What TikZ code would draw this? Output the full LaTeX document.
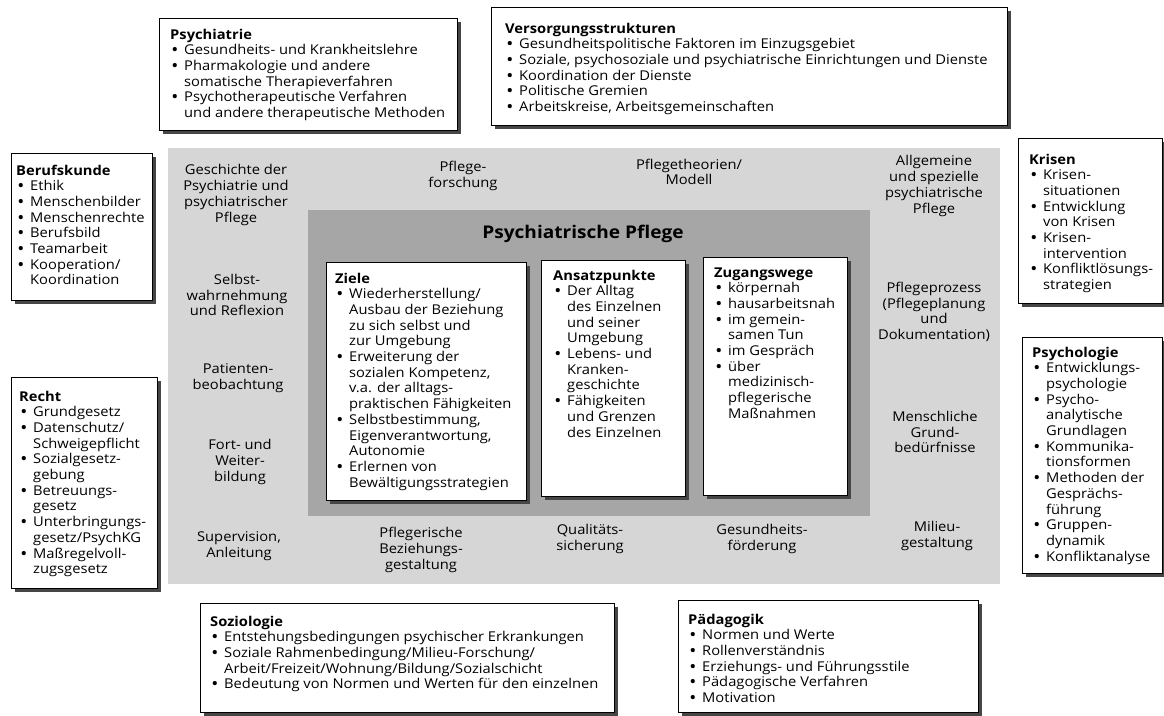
\documentclass[tikz,border=0pt]{standalone}
\usepackage{fontspec}
\setmainfont[FakeStretch=1.09]{Open Sans}
\usetikzlibrary{shadows}
\definecolor{lightgr}{RGB}{214,214,214}
\definecolor{darkgr}{RGB}{166,166,166}
\definecolor{shad}{RGB}{70,70,70}
\newcommand\itm[1]{\par\hangindent=14pt\hangafter=1\noindent\makebox[14pt][l]{\hspace{2pt}\textbf{\textbullet}}#1}
\newcommand\hd[1]{\noindent\textbf{#1}}
\newcommand\boxtext[2]{\parbox[t]{#1}{\raggedright\let\\\newline\setlength\parskip{0pt}#2}}
\tikzset{
  shbox/.style={draw=black, line width=0.9pt, fill=white, anchor=north west, inner sep=0pt,
    drop shadow={shadow xshift=4pt, shadow yshift=-4pt, fill=shad, opacity=1}},
  txt/.style={anchor=base west, inner sep=0pt, font=\fontsize{13.5}{15.7}\selectfont},
  lbl/.style={align=center, inner sep=0pt, font=\fontsize{13.5}{15.7}\selectfont},
  ttl/.style={inner sep=0pt, font=\fontsize{17.5}{20}\selectfont\bfseries},
}
\begin{document}
\begin{tikzpicture}[x=1pt,y=-1pt]
\useasboundingbox (0,0) rectangle (1164,715);
% background areas
\fill[lightgr] (168,148) rectangle (1000,584);
\fill[darkgr] (308,210) rectangle (870,516);
\node[ttl] (title) at (583,234) {Psychiatrische Pflege};

% outer boxes
\node[shbox, minimum width=298pt, minimum height=112pt] (psy) at (159,18) {};
\node[txt] (psyt) at (170,39) {\boxtext{290pt}{\hd{Psychiatrie}
\itm{Gesundheits- und Krankheitslehre}
\itm{Pharmakologie und andere\\somatische Therapieverfahren}
\itm{Psychotherapeutische Verfahren\\und andere therapeutische Methoden}}};

\node[shbox, minimum width=516pt, minimum height=118pt] (vers) at (491,7) {};
\node[txt] (verst) at (505,33) {\boxtext{510pt}{\hd{Versorgungsstrukturen}
\itm{Gesundheitspolitische Faktoren im Einzugsgebiet}
\itm{Soziale, psychosoziale und psychiatrische Einrichtungen und Dienste}
\itm{Koordination der Dienste}
\itm{Politische Gremien}
\itm{Arbeitskreise, Arbeitsgemeinschaften}}};

\node[shbox, minimum width=141pt, minimum height=147pt] (beruf) at (11,153) {};
\node[txt] (beruft) at (16,175) {\boxtext{140pt}{\hd{Berufskunde}
\itm{Ethik}
\itm{Menschenbilder}
\itm{Menschenrechte}
\itm{Berufsbild}
\itm{Teamarbeit}
\itm{Kooperation/\\Koordination}}};

\node[shbox, minimum width=146pt, minimum height=211pt] (recht) at (11,377) {};
\node[txt] (rechtt) at (19,401) {\boxtext{140pt}{\hd{Recht}
\itm{Grundgesetz}
\itm{Datenschutz/\\Schweigepflicht}
\itm{Sozialgesetz-\\gebung}
\itm{Betreuungs-\\gesetz}
\itm{Unterbringungs-\\gesetz/PsychKG}
\itm{Maßregelvoll-\\zugsgesetz}}};

\node[shbox, minimum width=144pt, minimum height=165pt] (kris) at (1018,138) {};
\node[txt] (krist) at (1029,164) {\boxtext{140pt}{\hd{Krisen}
\itm{Krisen-\\situationen}
\itm{Entwicklung\\von Krisen}
\itm{Krisen-\\intervention}
\itm{Konfliktlösungs-\\strategien}}};

\node[shbox, minimum width=140pt, minimum height=236pt] (psych) at (1022,337) {};
\node[txt] (psycht) at (1032,357) {\boxtext{140pt}{\hd{Psychologie}
\itm{Entwicklungs-\\psychologie}
\itm{Psycho-\\analytische\\Grundlagen}
\itm{Kommunika-\\tionsformen}
\itm{Methoden der\\Gesprächs-\\führung}
\itm{Gruppen-\\dynamik}
\itm{Konfliktanalyse}}};

\node[shbox, minimum width=414pt, minimum height=109pt] (soz) at (200,603) {};
\node[txt] (sozt) at (210,626) {\boxtext{400pt}{\hd{Soziologie}
\itm{Entstehungsbedingungen psychischer Erkrankungen}
\itm{Soziale Rahmenbedingung/Milieu-Forschung/\\Arbeit/Freizeit/Wohnung/Bildung/Sozialschicht}
\itm{Bedeutung von Normen und Werten für den einzelnen}}};

\node[shbox, minimum width=300pt, minimum height=112pt] (paed) at (678,600) {};
\node[txt] (paedt) at (688,624) {\boxtext{290pt}{\hd{Pädagogik}
\itm{Normen und Werte}
\itm{Rollenverständnis}
\itm{Erziehungs- und Führungsstile}
\itm{Pädagogische Verfahren}
\itm{Motivation}}};

% inner boxes
\node[shbox, minimum width=200pt, minimum height=238pt] (ziele) at (326,262) {};
\node[txt] (zielet) at (335,283) {\boxtext{195pt}{\hd{Ziele}
\itm{Wiederherstellung/\\Ausbau der Beziehung\\zu sich selbst und\\zur Umgebung}
\itm{Erweiterung der\\sozialen Kompetenz,\\v.a. der alltags-\\praktischen Fähigkeiten}
\itm{Selbstbestimmung,\\Eigenverantwortung,\\Autonomie}
\itm{Erlernen von\\Bewältigungsstrategien}}};

\node[shbox, minimum width=144pt, minimum height=236pt] (ansatz) at (541,260) {};
\node[txt] (ansatzt) at (553,280) {\boxtext{140pt}{\hd{Ansatzpunkte}
\itm{Der Alltag\\des Einzelnen\\und seiner\\Umgebung}
\itm{Lebens- und\\Kranken-\\geschichte}
\itm{Fähigkeiten\\und Grenzen\\des Einzelnen}}};

\node[shbox, minimum width=144pt, minimum height=238pt] (zugang) at (703,257) {};
\node[txt] (zugangt) at (714,277) {\boxtext{140pt}{\hd{Zugangswege}
\itm{körpernah}
\itm{hausarbeitsnah}
\itm{im gemein-\\samen Tun}
\itm{im Gespräch}
\itm{über\\medizinisch-\\pflegerische\\Maßnahmen}}};

% labels on grey area
\node[lbl] (gesch) at (236,195) {Geschichte der\\Psychiatrie und\\psychiatrischer\\Pflege};
\node[lbl] (pfor) at (463,176) {Pflege-\\forschung};
\node[lbl] (pthe) at (689,172) {Pflegetheorien/\\Modell};
\node[lbl] (allg) at (934,186) {Allgemeine\\und spezielle\\psychiatrische\\Pflege};
\node[lbl] (selbst) at (237,295) {Selbst-\\wahrnehmung\\und Reflexion};
\node[lbl] (patb) at (238,378) {Patienten-\\beobachtung};
\node[lbl] (fort) at (240,462) {Fort- und\\Weiter-\\bildung};
\node[lbl] (superv) at (239,546) {Supervision,\\Anleitung};
\node[lbl] (pbez) at (421,550) {Pflegerische\\Beziehungs-\\gestaltung};
\node[lbl] (qual) at (590,539) {Qualitäts-\\sicherung};
\node[lbl] (gesf) at (762,539) {Gesundheits-\\förderung};
\node[lbl] (milieu) at (937,536) {Milieu-\\gestaltung};
\node[lbl] (pproz) at (934,312) {Pflegeprozess\\(Pflegeplanung\\und\\Dokumentation)};
\node[lbl] (mgrund) at (935,432) {Menschliche\\Grund-\\bedürfnisse};
\end{tikzpicture}
\end{document}
